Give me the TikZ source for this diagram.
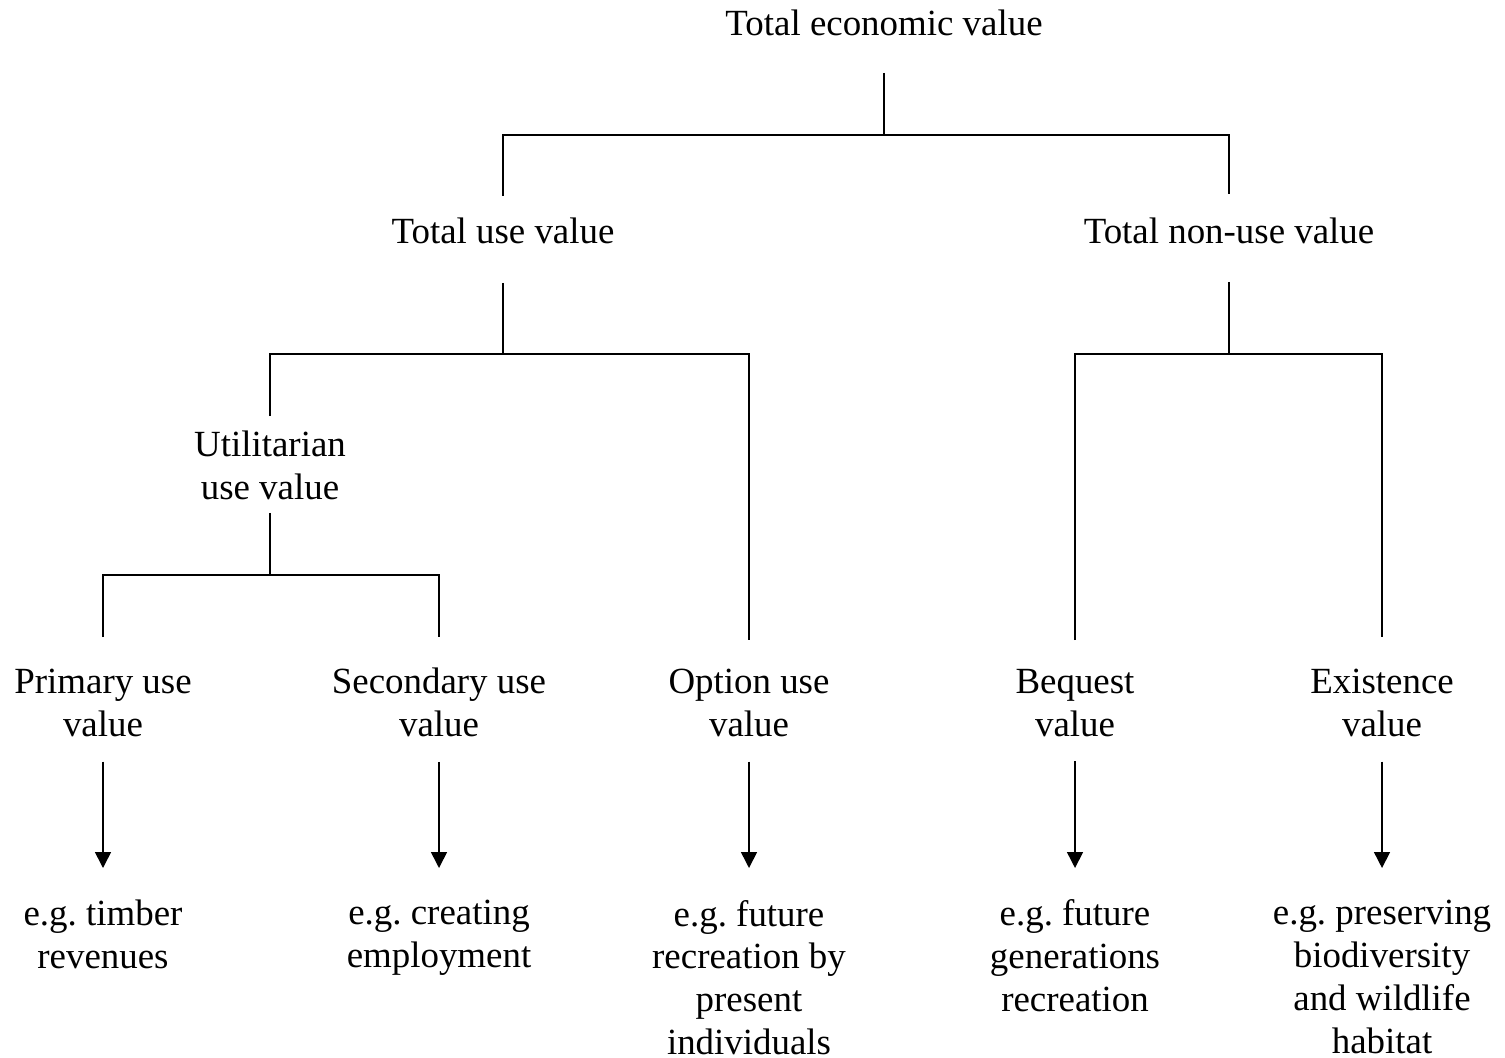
\documentclass[tikz,border=0pt]{standalone}
\usepackage{fontspec}
\setmainfont{Liberation Serif}
\usetikzlibrary{arrows.meta}
\frenchspacing
\tikzset{
  lbl/.style={inner sep=0pt, outer sep=0pt, align=center, anchor=north},
  tie/.style={line width=0.45pt},
  down/.style={line width=0.45pt, -{Triangle[length=1.6mm, width=1.6mm]}}
}
\begin{document}
\begin{tikzpicture}
\useasboundingbox (0,0) rectangle (15.05,-10.57);
{\fontsize{10.5}{12.2}\selectfont

% Marking the top levels
\node [lbl] (tev) at (8.84,-0.10) {Total economic value};
\node [lbl] (tuv) at (5.03,-2.18) {Total use value};
\node [lbl] (tnuv) at (12.29,-2.18) {Total non-use value};
\node [lbl] (uuv) at (2.70,-4.31) {Utilitarian\\use value};

% Marking the value types
\node [lbl] (puv) at (1.03,-6.69) {Primary use\\value};
\node [lbl] (suv) at (4.39,-6.68) {Secondary use\\value};
\node [lbl] (ouv) at (7.49,-6.69) {Option use\\value};
\node [lbl] (bv) at (10.75,-6.69) {Bequest\\value};
\node [lbl] (ev) at (13.82,-6.69) {Existence\\value};

% Marking the examples
\node [lbl] (puvx) at (1.03,-9.00) {e.g. timber\\revenues};
\node [lbl] (suvx) at (4.39,-9.00) {e.g. creating\\employment};
\node [lbl] (ouvx) at (7.49,-9.00) {e.g. future\\recreation by\\present\\individuals};
\node [lbl] (bvx) at (10.75,-9.00) {e.g. future\\generations\\recreation};
\node [lbl] (evx) at (13.82,-9.00) {e.g. preserving\\biodiversity\\and wildlife\\habitat};

% Drawing line tev to tuv and tnuv
\draw [tie] ([yshift=-3.7mm]tev.south) -- ++(0,-0.62) coordinate (j0);
\draw [tie] ([yshift=2.2mm]tuv.north) |- (j0) -| ([yshift=2.4mm]tnuv.north);

% Drawing line tuv to uuv and ouv
\draw [tie] ([yshift=-3.9mm]tuv.south) -- ++(0,-0.71) coordinate (j1);
\draw [tie] ([yshift=1.5mm]uuv.north) |- (j1) -| ([yshift=2.9mm]ouv.north);

% Drawing line tnuv to bv and ev
\draw [tie] ([yshift=-3.8mm]tnuv.south) -- ++(0,-0.72) coordinate (j2);
\draw [tie] ([yshift=2.9mm]bv.north) |- (j2) -| ([yshift=3.2mm]ev.north);

% Drawing line uuv to puv and suv
\draw [tie] ([yshift=-1.3mm]uuv.south) -- ++(0,-0.62) coordinate (j3);
\draw [tie] ([yshift=3.2mm]puv.north) |- (j3) -| ([yshift=3.1mm]suv.north);

% Drawing arrows to the examples
\foreach \v in {puv,suv,ouv,bv,ev}
  \draw [down] ([yshift=-2.5mm]\v.south) -- ([yshift=3.2mm]\v x.north);
}
\end{tikzpicture}
\end{document}
